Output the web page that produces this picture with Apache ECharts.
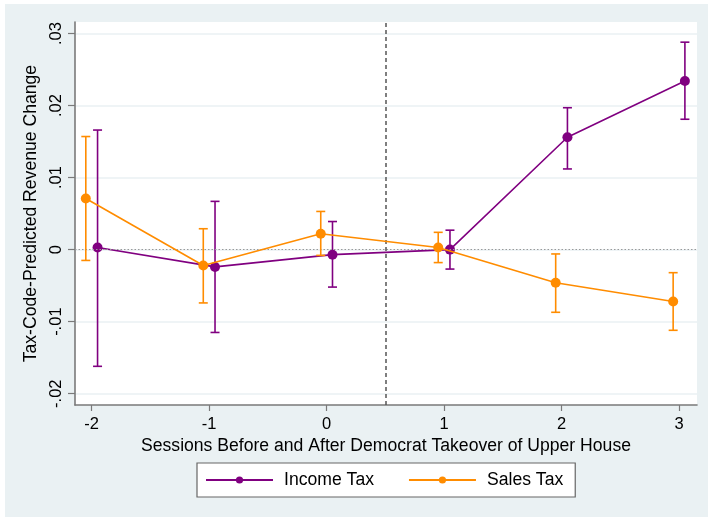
<!DOCTYPE html>
<html>
<head>
<meta charset="utf-8">
<script src="https://cdn.jsdelivr.net/npm/echarts@6/dist/echarts.min.js"></script>
<style>
  html, body { margin: 0; padding: 0; background: #fff; }
  #chart {
    width: 708px; height: 517px;
    background:
      linear-gradient(#eaf1f3, #eaf1f3) no-repeat 5px 4px / 703px 513px,
      #fff;
  }
</style>
</head>
<body>
<div id="chart"></div>
<script>
// ---------------- data ----------------
const sessions = [-2, -1, 0, 1, 2, 3];

const incomeEst = [0.0003, -0.0024, -0.0007, 0.0000, 0.0156, 0.0234];
const incomeLo  = [-0.0162, -0.0115, -0.0052, -0.0027, 0.0112, 0.0181];
const incomeHi  = [0.0166, 0.0067, 0.0039, 0.0027, 0.0197, 0.0288];

const salesEst = [0.0071, -0.0022, 0.0022, 0.0003, -0.0046, -0.0072];
const salesLo  = [-0.0015, -0.0074, -0.0008, -0.0018, -0.0087, -0.0112];
const salesHi  = [0.0157, 0.0029, 0.0053, 0.0024, -0.0006, -0.0032];

const xTickLabels = ['-2', '-1', '0', '1', '2', '3'];
const yTickValues = [-0.02, -0.01, 0, 0.01, 0.02, 0.03];
const yTickLabels = ['-.02', '-.01', '0', '.01', '.02', '.03'];

const seriesNames = ['Income Tax', 'Sales Tax'];
const xTitle = 'Sessions Before and After Democrat Takeover of Upper House';
const yTitle = 'Tax-Code-Predicted Revenue Change';
const takeoverLine = 0.5;

// ---------------- layout / style ----------------
const PURPLE = '#800080';
const ORANGE = '#ff8c00';
const AXIS = '#7a7a7a';
const GRIDC = '#eaf1f3';
const FONT = 'Liberation Sans, Arial, Helvetica, sans-serif';
const W = 708, H = 517;
const PL = 75, PR = 697, PT = 22, PB = 405;   // plot region
const XMIN = -2.142, XMAX = 3.153;
const YMIN = -0.02157, YMAX = 0.0316;
const OFFSET = 0.05;

const pw = PR - PL, ph = PB - PT;
const xs = pw / (XMAX - XMIN), ys = ph / (YMAX - YMIN);
const xTickMin = -2, xTickMax = 3;
const yTickMin = -0.02, yTickMax = 0.03;

const mainGrid = { left: PL, right: W - PR, top: PT, bottom: H - PB,
  show: true, backgroundColor: '#ffffff', borderWidth: 0 };
const xTickGrid = { left: PL + (xTickMin - XMIN) * xs, right: (W - PR) + (XMAX - xTickMax) * xs,
  top: PT, bottom: H - PB, show: false };
const yTickGrid = { left: PL, right: W - PR, top: PT + (YMAX - yTickMax) * ys,
  bottom: (H - PB) + (yTickMin - YMIN) * ys, show: false };

function errData(lo, hi, off) {
  return sessions.map((s, i) => [s + off, lo[i], hi[i]]);
}
function ptData(est, off) {
  return sessions.map((s, i) => [s + off, est[i]]);
}
function errRender(color) {
  return function (params, api) {
    const x = api.value(0), lo = api.value(1), hi = api.value(2);
    const a = api.coord([x, hi]), b = api.coord([x, lo]);
    const hw = 4.5;
    const st = { stroke: color, lineWidth: 1.6, fill: null };
    return { type: 'group', children: [
      { type: 'line', shape: { x1: a[0], y1: a[1], x2: b[0], y2: b[1] }, style: st },
      { type: 'line', shape: { x1: a[0] - hw, y1: a[1], x2: a[0] + hw, y2: a[1] }, style: st },
      { type: 'line', shape: { x1: b[0] - hw, y1: b[1], x2: b[0] + hw, y2: b[1] }, style: st }
    ]};
  };
}

const chart = echarts.init(document.getElementById('chart'), null, { renderer: 'canvas' });

chart.setOption({
  animation: false,
  backgroundColor: 'transparent',
  textStyle: { fontFamily: FONT, color: '#000' },
  grid: [mainGrid, xTickGrid, yTickGrid],
  xAxis: [
    { gridIndex: 0, type: 'value', min: XMIN, max: XMAX,
      axisLine: { show: true, onZero: false, lineStyle: { color: AXIS, width: 1.6 } },
      axisTick: { show: false }, axisLabel: { show: false }, splitLine: { show: false },
      name: xTitle, nameLocation: 'middle', nameGap: 32,
      nameTextStyle: { fontSize: 17.6, fontFamily: FONT, color: '#000' } },
    { gridIndex: 1, type: 'value', min: xTickMin, max: xTickMax, interval: 1,
      axisLine: { show: false }, splitLine: { show: false },
      axisTick: { show: true, length: 6, lineStyle: { color: AXIS, width: 1.2 } },
      axisLabel: { margin: 11, fontSize: 16.5, fontFamily: FONT, color: '#000',
        formatter: v => xTickLabels[Math.round(v - xTickMin)] } },
    { gridIndex: 2, type: 'value', show: false, min: 0, max: 1 }
  ],
  yAxis: [
    { gridIndex: 0, type: 'value', min: YMIN, max: YMAX,
      axisLine: { show: true, onZero: false, lineStyle: { color: AXIS, width: 1.6 } },
      axisTick: { show: false }, axisLabel: { show: false }, splitLine: { show: false } },
    { gridIndex: 1, type: 'value', show: false, min: 0, max: 1 },
    { gridIndex: 2, type: 'value', min: yTickMin, max: yTickMax, interval: 0.01,
      axisLine: { show: false },
      axisTick: { show: true, length: 7, lineStyle: { color: AXIS, width: 1.2 } },
      splitLine: { show: true, lineStyle: { color: GRIDC, width: 1.6 } },
      axisLabel: { rotate: 90, margin: 10, fontSize: 16.5, fontFamily: FONT, color: '#000',
        formatter: v => {
          let idx = yTickValues.findIndex(t => Math.abs(t - v) < 1e-9);
          return idx >= 0 ? yTickLabels[idx] : '';
        } },
      name: yTitle, nameLocation: 'middle', nameRotate: 90, nameGap: 26,
      nameTextStyle: { fontSize: 17.6, fontFamily: FONT, color: '#000' } }
  ],
  legend: {
    left: 197, top: 463,
    data: seriesNames,
    orient: 'horizontal',
    backgroundColor: '#fff', borderColor: '#666', borderWidth: 1.2,
    padding: [8, 12, 8, 8],
    itemWidth: 67, itemHeight: 9, itemGap: 34,
    textStyle: { fontSize: 17.6, fontFamily: FONT, color: '#000', padding: [0, 0, 0, 6] }
  },
  series: [
    { type: 'custom', name: 'Income Tax CI', xAxisIndex: 0, yAxisIndex: 0,
      renderItem: errRender(PURPLE), encode: { x: 0, y: [1, 2] },
      data: errData(incomeLo, incomeHi, OFFSET), z: 3, silent: true },
    { type: 'line', name: seriesNames[0], xAxisIndex: 0, yAxisIndex: 0,
      data: ptData(incomeEst, OFFSET), color: PURPLE,
      symbol: 'circle', symbolSize: 10, showSymbol: true,
      lineStyle: { color: PURPLE, width: 1.6 }, itemStyle: { color: PURPLE }, z: 4,
      markLine: { silent: true, symbol: 'none', label: { show: false },
        data: [
          { yAxis: 0, lineStyle: { color: '#9a9a9a', width: 1.2, type: [1.5, 2] } },
          { xAxis: takeoverLine, lineStyle: { color: '#555', width: 1.5, type: [4, 3] } }
        ] } },
    { type: 'custom', name: 'Sales Tax CI', xAxisIndex: 0, yAxisIndex: 0,
      renderItem: errRender(ORANGE), encode: { x: 0, y: [1, 2] },
      data: errData(salesLo, salesHi, -OFFSET), z: 5, silent: true },
    { type: 'line', name: seriesNames[1], xAxisIndex: 0, yAxisIndex: 0,
      data: ptData(salesEst, -OFFSET), color: ORANGE,
      symbol: 'circle', symbolSize: 10, showSymbol: true,
      lineStyle: { color: ORANGE, width: 1.6 }, itemStyle: { color: ORANGE }, z: 6 }
  ]
});
</script>
</body>
</html>
